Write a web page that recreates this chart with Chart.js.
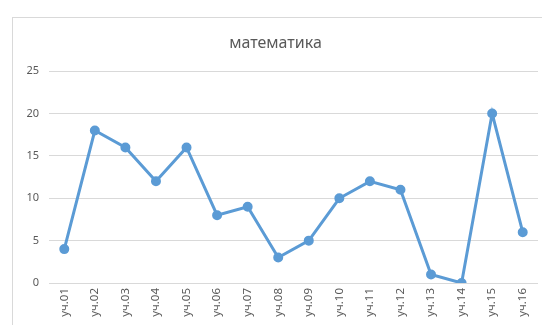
<!DOCTYPE html>
<html>
<head>
<meta charset="utf-8">
<script src="https://cdn.jsdelivr.net/npm/chart.js@4"></script>
<style>
  html, body { margin: 0; padding: 0; background: #fff; overflow: hidden; }
  .frame {
    position: absolute; left: 12px; top: 17px;
    width: 560px; height: 340px;
    border: 1px solid #d9d9d9;
  }
  #lineChart { position: absolute; left: 0; top: 0; }
</style>
</head>
<body>
<div class="frame">
  <canvas id="lineChart" width="546" height="322"></canvas>
</div>
<script>
// Баллы по участникам
const labels = ['уч.01', 'уч.02', 'уч.03', 'уч.04', 'уч.05', 'уч.06', 'уч.07', 'уч.08',
                'уч.09', 'уч.10', 'уч.11', 'уч.12', 'уч.13', 'уч.14', 'уч.15', 'уч.16'];
const scores = [4, 18, 16, 12, 16, 8, 9, 3, 5, 10, 12, 11, 1, 0, 20, 6];
const yTicks = [0, 5, 10, 15, 20, 25];

const textColor = '#595959';
const gridColor = '#d9d9d9';
const blue = '#5b9bd5';

const ctx = document.getElementById('lineChart').getContext('2d');
const chart = new Chart(ctx, {
    type: 'line',
    data: {
        labels: labels,
        datasets: [{
            label: 'математика',
            data: scores,
            borderColor: blue,
            backgroundColor: blue,
            borderWidth: 3,
            pointRadius: 3.5,
            pointBackgroundColor: blue,
            pointBorderColor: blue,
            tension: 0
        }]
    },
    options: {
        responsive: false,
        animation: false,
        layout: { padding: { left: 0, right: 21, top: 0, bottom: 0 } },
        plugins: {
            legend: { display: false },
            tooltip: { enabled: false },
            title: {
                display: true,
                text: 'математика',
                color: textColor,
                font: { family: 'Noto Sans', size: 16, weight: 'normal' },
                padding: { top: 16, bottom: 18 }
            }
        },
        scales: {
            x: {
                offset: true,
                grid: { display: false, drawTicks: false },
                border: { display: false },
                ticks: {
                    color: textColor,
                    font: { family: 'Noto Sans', size: 11.5 },
                    maxRotation: 90,
                    minRotation: 90,
                    padding: 5,
                    autoSkip: false
                },
                afterFit: scale => { scale.height = 57; }
            },
            y: {
                min: 0,
                max: 25,
                afterBuildTicks: scale => {
                    scale.ticks = yTicks.map(v => ({ value: v }));
                },
                grid: { color: gridColor, lineWidth: 1, drawTicks: false },
                border: { display: false },
                ticks: {
                    color: textColor,
                    font: { family: 'Noto Sans', size: 11 },
                    padding: 10
                },
                afterFit: scale => { scale.width = 36; }
            }
        }
    }
});
</script>
</body>
</html>
